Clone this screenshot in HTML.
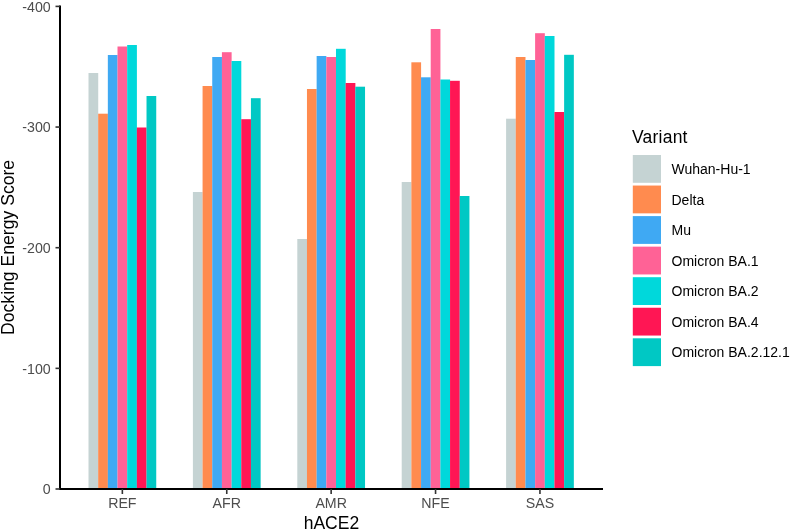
<!DOCTYPE html>
<html><head><meta charset="utf-8"><style>
html,body{margin:0;padding:0;background:#fff;}
svg{display:block;will-change:transform;}
text{font-family:"Liberation Sans",sans-serif;}
.ax{font-size:14.2px;fill:#4D4D4D;}
.ti{font-size:17.5px;fill:#000;}
.lg{font-size:14px;fill:#000;}
</style></head><body>
<svg width="790" height="531" viewBox="0 0 790 531">
<rect width="790" height="531" fill="#fff"/>
<rect x="88.50" y="73.00" width="9.72" height="416.00" fill="#C5D3D3"/>
<rect x="98.17" y="113.70" width="9.72" height="375.30" fill="#FF8B4F"/>
<rect x="107.84" y="55.00" width="9.72" height="434.00" fill="#3FA9F3"/>
<rect x="117.51" y="46.50" width="9.72" height="442.50" fill="#FF6296"/>
<rect x="127.18" y="45.00" width="9.72" height="444.00" fill="#00D8DB"/>
<rect x="136.85" y="127.50" width="9.72" height="361.50" fill="#FF1654"/>
<rect x="146.52" y="96.00" width="9.72" height="393.00" fill="#00C8C4"/>
<rect x="192.90" y="192.00" width="9.72" height="297.00" fill="#C5D3D3"/>
<rect x="202.57" y="86.00" width="9.72" height="403.00" fill="#FF8B4F"/>
<rect x="212.24" y="57.00" width="9.72" height="432.00" fill="#3FA9F3"/>
<rect x="221.91" y="52.20" width="9.72" height="436.80" fill="#FF6296"/>
<rect x="231.58" y="61.00" width="9.72" height="428.00" fill="#00D8DB"/>
<rect x="241.25" y="119.20" width="9.72" height="369.80" fill="#FF1654"/>
<rect x="250.92" y="98.20" width="9.72" height="390.80" fill="#00C8C4"/>
<rect x="297.30" y="239.00" width="9.72" height="250.00" fill="#C5D3D3"/>
<rect x="306.97" y="89.00" width="9.72" height="400.00" fill="#FF8B4F"/>
<rect x="316.64" y="56.00" width="9.72" height="433.00" fill="#3FA9F3"/>
<rect x="326.31" y="57.00" width="9.72" height="432.00" fill="#FF6296"/>
<rect x="335.98" y="48.80" width="9.72" height="440.20" fill="#00D8DB"/>
<rect x="345.65" y="83.00" width="9.72" height="406.00" fill="#FF1654"/>
<rect x="355.32" y="86.70" width="9.72" height="402.30" fill="#00C8C4"/>
<rect x="401.70" y="182.00" width="9.72" height="307.00" fill="#C5D3D3"/>
<rect x="411.37" y="62.30" width="9.72" height="426.70" fill="#FF8B4F"/>
<rect x="421.04" y="77.30" width="9.72" height="411.70" fill="#3FA9F3"/>
<rect x="430.71" y="29.00" width="9.72" height="460.00" fill="#FF6296"/>
<rect x="440.38" y="79.50" width="9.72" height="409.50" fill="#00D8DB"/>
<rect x="450.05" y="80.80" width="9.72" height="408.20" fill="#FF1654"/>
<rect x="459.72" y="196.00" width="9.72" height="293.00" fill="#00C8C4"/>
<rect x="506.10" y="118.70" width="9.72" height="370.30" fill="#C5D3D3"/>
<rect x="515.77" y="57.00" width="9.72" height="432.00" fill="#FF8B4F"/>
<rect x="525.44" y="60.00" width="9.72" height="429.00" fill="#3FA9F3"/>
<rect x="535.11" y="33.20" width="9.72" height="455.80" fill="#FF6296"/>
<rect x="544.78" y="36.00" width="9.72" height="453.00" fill="#00D8DB"/>
<rect x="554.45" y="112.00" width="9.72" height="377.00" fill="#FF1654"/>
<rect x="564.12" y="54.80" width="9.72" height="434.20" fill="#00C8C4"/>
<path d="M60 5.5V489H603" fill="none" stroke="#000" stroke-width="2" stroke-linecap="butt"/>
<line x1="55.5" x2="60" y1="6.40" y2="6.40" stroke="#333" stroke-width="1.6"/>
<text x="50.7" y="11.70" text-anchor="end" class="ax">-400</text>
<line x1="55.5" x2="60" y1="127.05" y2="127.05" stroke="#333" stroke-width="1.6"/>
<text x="50.7" y="132.35" text-anchor="end" class="ax">-300</text>
<line x1="55.5" x2="60" y1="247.70" y2="247.70" stroke="#333" stroke-width="1.6"/>
<text x="50.7" y="253.00" text-anchor="end" class="ax">-200</text>
<line x1="55.5" x2="60" y1="368.35" y2="368.35" stroke="#333" stroke-width="1.6"/>
<text x="50.7" y="373.65" text-anchor="end" class="ax">-100</text>
<line x1="55.5" x2="60" y1="489.00" y2="489.00" stroke="#333" stroke-width="1.6"/>
<text x="50.7" y="494.30" text-anchor="end" class="ax">0</text>
<line x1="122.35" x2="122.35" y1="489" y2="494" stroke="#333" stroke-width="1.6"/>
<text x="122.35" y="508.1" text-anchor="middle" class="ax">REF</text>
<line x1="226.75" x2="226.75" y1="489" y2="494" stroke="#333" stroke-width="1.6"/>
<text x="226.75" y="508.1" text-anchor="middle" class="ax">AFR</text>
<line x1="331.15" x2="331.15" y1="489" y2="494" stroke="#333" stroke-width="1.6"/>
<text x="331.15" y="508.1" text-anchor="middle" class="ax">AMR</text>
<line x1="435.55" x2="435.55" y1="489" y2="494" stroke="#333" stroke-width="1.6"/>
<text x="435.55" y="508.1" text-anchor="middle" class="ax">NFE</text>
<line x1="539.95" x2="539.95" y1="489" y2="494" stroke="#333" stroke-width="1.6"/>
<text x="539.95" y="508.1" text-anchor="middle" class="ax">SAS</text>
<text x="331.4" y="528.8" text-anchor="middle" class="ti">hACE2</text>
<text transform="translate(14.3 247.4) rotate(-90)" text-anchor="middle" class="ti" style="font-size:17.6px">Docking Energy Score</text>
<text x="632" y="143.2" class="ti" letter-spacing="0.22">Variant</text>
<rect x="632.8" y="155.00" width="28.2" height="27.8" fill="#C5D3D3"/>
<text x="671.5" y="174.00" class="lg">Wuhan-Hu-1</text>
<rect x="632.8" y="185.55" width="28.2" height="27.8" fill="#FF8B4F"/>
<text x="671.5" y="204.55" class="lg">Delta</text>
<rect x="632.8" y="216.10" width="28.2" height="27.8" fill="#3FA9F3"/>
<text x="671.5" y="235.10" class="lg">Mu</text>
<rect x="632.8" y="246.65" width="28.2" height="27.8" fill="#FF6296"/>
<text x="671.5" y="265.65" class="lg">Omicron BA.1</text>
<rect x="632.8" y="277.20" width="28.2" height="27.8" fill="#00D8DB"/>
<text x="671.5" y="296.20" class="lg">Omicron BA.2</text>
<rect x="632.8" y="307.75" width="28.2" height="27.8" fill="#FF1654"/>
<text x="671.5" y="326.75" class="lg">Omicron BA.4</text>
<rect x="632.8" y="338.30" width="28.2" height="27.8" fill="#00C8C4"/>
<text x="671.5" y="357.30" class="lg">Omicron BA.2.12.1</text>
</svg>
</body></html>
